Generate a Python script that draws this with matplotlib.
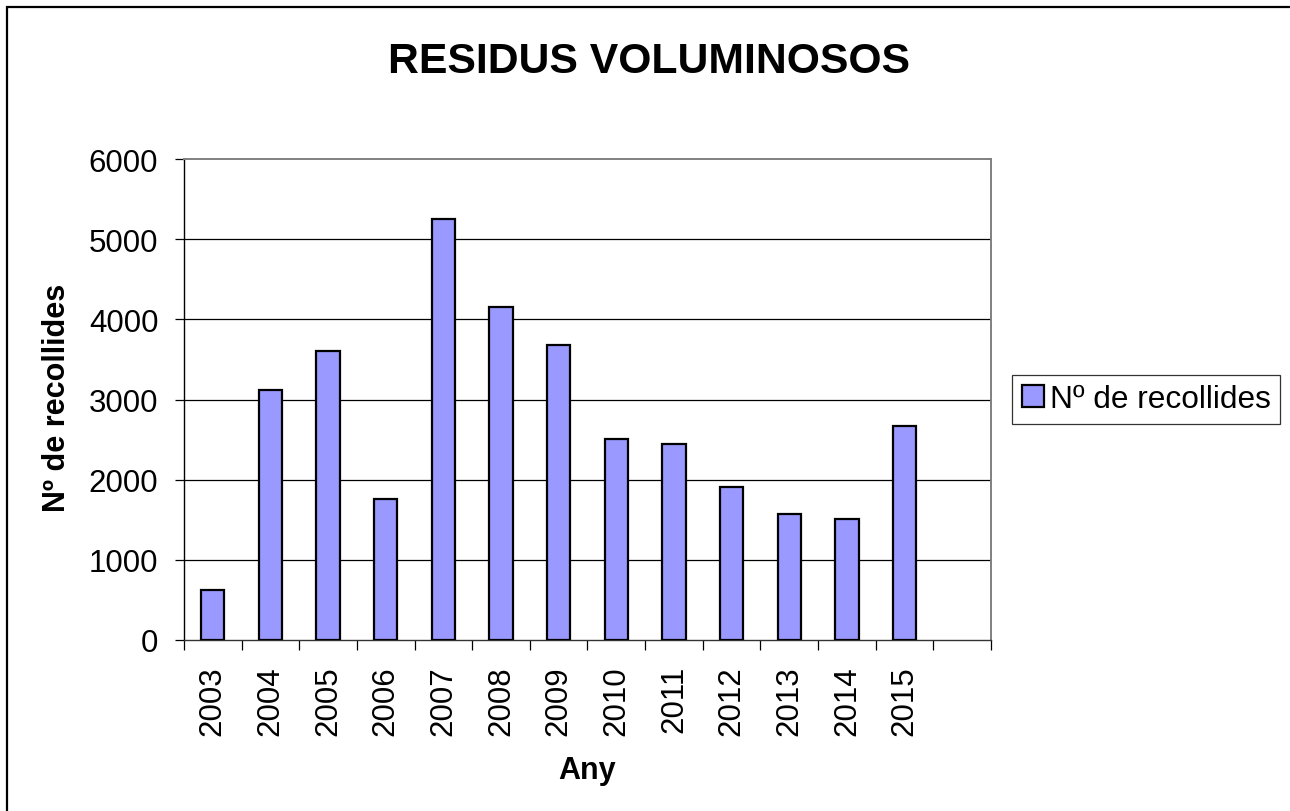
import numpy as np
import matplotlib
matplotlib.use("Agg")
import matplotlib.pyplot as plt
from matplotlib.patches import Rectangle
from matplotlib.ticker import FixedLocator

# ---------- data ----------
years = ["2003", "2004", "2005", "2006", "2007", "2008", "2009",
         "2010", "2011", "2012", "2013", "2014", "2015"]
recollides = [620, 3120, 3600, 1760, 5250, 4155, 3675,
              2505, 2445, 1905, 1570, 1510, 2665]
n_slots = 14  # Excel left an empty category slot after 2015
y_ticks = [0, 1000, 2000, 3000, 4000, 5000, 6000]

W, H = 1290, 812
plt.rcParams["font.family"] = ["Liberation Sans", "DejaVu Sans"]

fig = plt.figure(figsize=(W / 100, H / 100), dpi=100)
fig.patch.set_facecolor("white")

# plot area in pixel coords
left, right, top, bottom = 184, 991, 160, 641
ax = fig.add_axes([left / W, 1 - bottom / H, (right - left) / W, (bottom - top) / H])

x = np.arange(len(years))
ax.bar(x, recollides, width=0.405, color="#9999FF", edgecolor="black",
       linewidth=1.6, zorder=3)

ax.set_xlim(-0.5, n_slots - 0.5)
ax.set_ylim(0, 6000)

# gridlines
for v in y_ticks[1:-1]:
    ax.axhline(v, color="black", linewidth=0.9, zorder=1)

# ticks
ax.set_yticks(y_ticks)
ax.tick_params(axis="y", direction="out", length=6.5, width=0.9, pad=12,
               labelsize=22.5, color="black")
ax.xaxis.set_major_locator(FixedLocator(np.arange(-0.5, n_slots, 1.0)))
ax.xaxis.set_minor_locator(FixedLocator(x))
ax.set_xticklabels([])
ax.set_xticklabels(years, minor=True, rotation=90)
ax.tick_params(axis="x", which="major", direction="out", length=7.2, width=0.9,
               color="black")
ax.tick_params(axis="x", which="minor", length=0, pad=18, labelsize=22.5)

for s in ["top", "right"]:
    ax.spines[s].set_color("#808080")
    ax.spines[s].set_linewidth(1.4)
ax.spines["left"].set_color("black")
ax.spines["bottom"].set_color("#333333")
ax.spines["left"].set_linewidth(1.0)
ax.spines["bottom"].set_linewidth(1.0)

ax.set_ylabel("Nº de recollides", fontsize=22, fontweight="bold", va="center")
ax.yaxis.set_label_coords((57 - left) / (right - left), 0.505)
ax.set_xlabel("Any", fontsize=22, fontweight="bold", va="center")
ax.xaxis.set_label_coords(0.5, (bottom - 771) / (bottom - top))

fig.text(649 / W, 1 - 62 / H, "RESIDUS VOLUMINOSOS", fontsize=30.8,
         fontweight="bold", ha="center", va="center")

# legend
handle = Rectangle((0, 0), 1, 1, facecolor="#9999FF", edgecolor="black", linewidth=1.6)
leg = fig.legend([handle], ["Nº de recollides"], loc="center left",
                 bbox_to_anchor=(1012 / W, 1 - 400 / H), fontsize=22.8,
                 frameon=True, fancybox=False, handlelength=0.7, handleheight=0.7,
                 handletextpad=0.2, borderpad=0.3, borderaxespad=0)
leg.get_frame().set_edgecolor("black")
leg.get_frame().set_linewidth(0.9)

# outer chart border (only top and left are visible in the image)
fig.add_artist(Rectangle((7 / W, -0.1), 1.2, 1.1 - 8 / H, transform=fig.transFigure,
                         fill=False, edgecolor="black", linewidth=1.6))

fig.savefig("out.png", dpi=100)
